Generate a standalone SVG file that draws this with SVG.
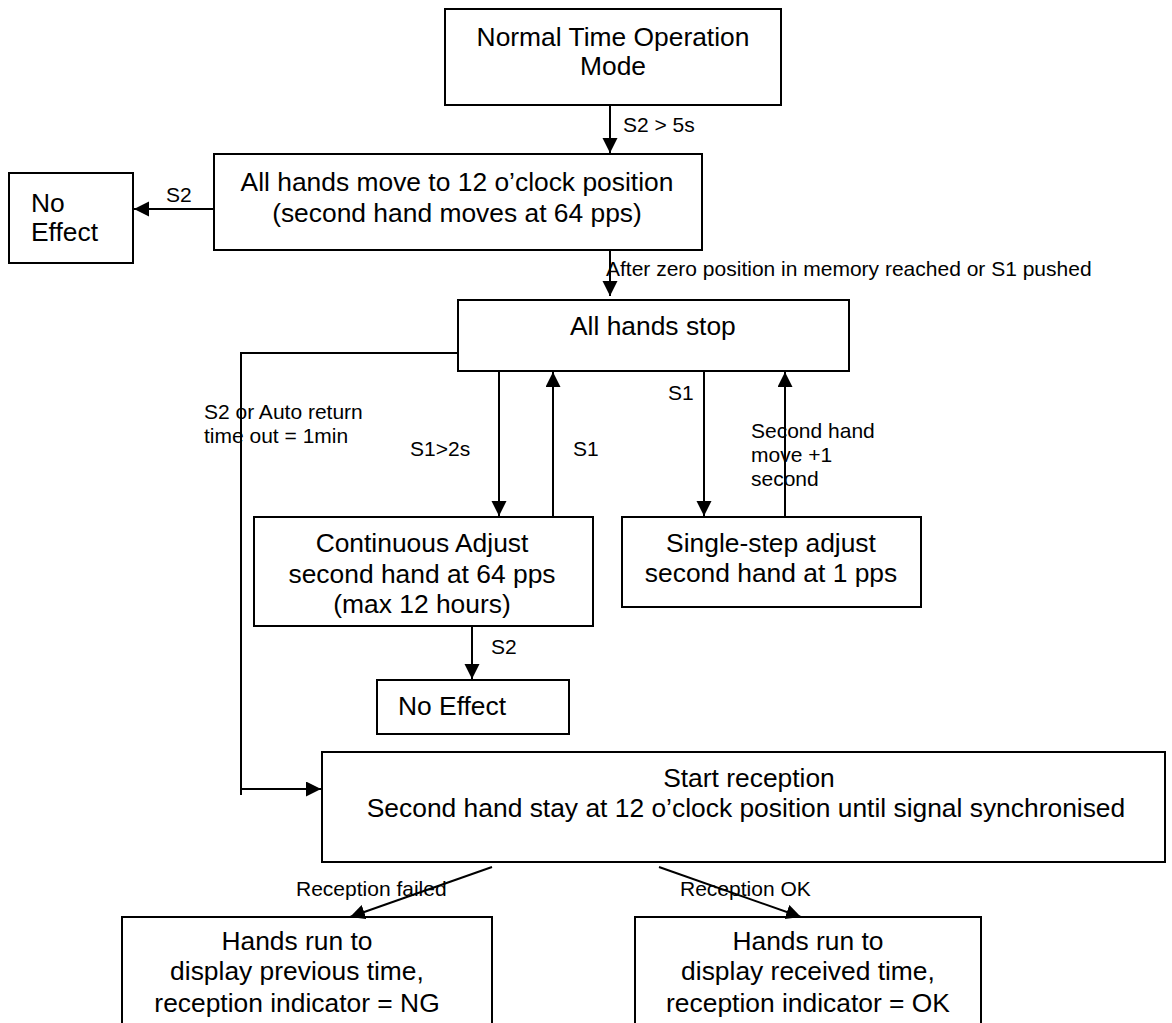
<svg xmlns="http://www.w3.org/2000/svg" width="1172" height="1023" viewBox="0 0 1172 1023">
<style>
.box{fill:#fff;stroke:#000;stroke-width:2}
.t{font-family:"Liberation Sans",Arial,sans-serif;font-size:26.4px;fill:#000}
.s{font-family:"Liberation Sans",Arial,sans-serif;font-size:21px;fill:#000}
.c{text-anchor:middle}
.ln{fill:none;stroke:#000;stroke-width:2}
</style>
<defs>
<marker id="ah" markerUnits="userSpaceOnUse" markerWidth="16" markerHeight="16" refX="15" refY="7.5" orient="auto">
<path d="M0,0 L15,7.5 L0,15 z" fill="#000"/>
</marker>
</defs>
<rect width="1172" height="1023" fill="#fff"/>

<g id="normal">
<rect class="box" x="445" y="9" width="336" height="96"/>
<text class="t c" x="613" y="46">Normal Time Operation</text>
<text class="t c" x="613" y="75">Mode</text>
</g>

<g id="move12">
<rect class="box" x="214" y="154" width="488" height="96"/>
<text class="t c" x="457" y="191">All hands move to 12 o’clock position</text>
<text class="t c" x="457" y="222">(second hand moves at 64 pps)</text>
</g>

<g id="noeffect1">
<rect class="box" x="9" y="173" width="124" height="90"/>
<text class="t" x="31" y="212">No</text>
<text class="t" x="31" y="241">Effect</text>
</g>

<g id="stop">
<rect class="box" x="458" y="300" width="391" height="71"/>
<text class="t" x="570" y="335">All hands stop</text>
</g>

<g id="continuous">
<rect class="box" x="254" y="517" width="339" height="109"/>
<text class="t c" x="422" y="552">Continuous Adjust</text>
<text class="t c" x="422" y="583">second hand at 64 pps</text>
<text class="t c" x="422" y="613">(max 12 hours)</text>
</g>

<g id="single">
<rect class="box" x="622" y="517" width="299" height="90"/>
<text class="t c" x="771" y="552">Single-step adjust</text>
<text class="t c" x="771" y="582">second hand at 1 pps</text>
</g>

<g id="noeffect2">
<rect class="box" x="377" y="680" width="192" height="54"/>
<text class="t" x="398" y="715">No Effect</text>
</g>

<g id="reception">
<rect class="box" x="322" y="752" width="843" height="110"/>
<text class="t c" x="749" y="787">Start reception</text>
<text class="t c" x="746" y="817">Second hand stay at 12 o’clock position until signal synchronised</text>
</g>

<g id="ng">
<rect class="box" x="122" y="917" width="370" height="120"/>
<text class="t c" x="297" y="950">Hands run to</text>
<text class="t c" x="297" y="980">display previous time,</text>
<text class="t c" x="297" y="1012">reception indicator = NG</text>
</g>

<g id="ok">
<rect class="box" x="635" y="917" width="346" height="120"/>
<text class="t c" x="808" y="950">Hands run to</text>
<text class="t c" x="808" y="980">display received time,</text>
<text class="t c" x="808" y="1012">reception indicator = OK</text>
</g>

<g id="connectors">
<line class="ln" x1="610" y1="105" x2="610" y2="153" marker-end="url(#ah)"/>
<text class="s" x="623" y="132">S2 &gt; 5s</text>

<line class="ln" x1="214" y1="209" x2="134" y2="209" marker-end="url(#ah)"/>
<text class="s" x="166" y="202">S2</text>

<line class="ln" x1="610" y1="250" x2="610" y2="296" marker-end="url(#ah)"/>
<text class="s" x="606" y="276">After zero position in memory reached or S1 pushed</text>

<path class="ln" d="M458,353 H241 V795"/>
<line class="ln" x1="241" y1="789" x2="321" y2="789" marker-end="url(#ah)"/>
<text class="s" x="204" y="419">S2 or Auto return</text>
<text class="s" x="204" y="443">time out = 1min</text>

<line class="ln" x1="499" y1="371" x2="499" y2="516" marker-end="url(#ah)"/>
<text class="s" x="410" y="456">S1&gt;2s</text>
<line class="ln" x1="553" y1="517" x2="553" y2="372" marker-end="url(#ah)"/>
<text class="s" x="573" y="456">S1</text>

<line class="ln" x1="704" y1="371" x2="704" y2="516" marker-end="url(#ah)"/>
<text class="s" x="668" y="400">S1</text>
<line class="ln" x1="785" y1="517" x2="785" y2="372" marker-end="url(#ah)"/>
<text class="s" x="751" y="438">Second hand</text>
<text class="s" x="751" y="462">move +1</text>
<text class="s" x="751" y="486">second</text>

<line class="ln" x1="472" y1="626" x2="472" y2="679" marker-end="url(#ah)"/>
<text class="s" x="491" y="654">S2</text>

<line class="ln" x1="492" y1="867" x2="350" y2="917" marker-end="url(#ah)"/>
<text class="s" x="296" y="896">Reception failed</text>
<line class="ln" x1="659" y1="867" x2="801" y2="917" marker-end="url(#ah)"/>
<text class="s" x="680" y="896">Reception OK</text>
</g>
</svg>
